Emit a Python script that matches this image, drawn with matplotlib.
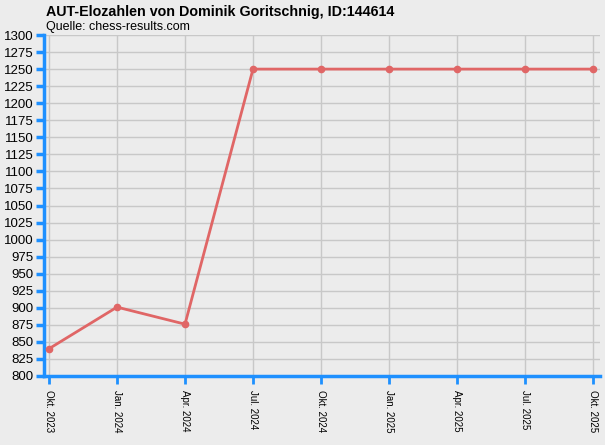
import matplotlib; matplotlib.use('Agg')
import matplotlib.pyplot as plt

plt.rcParams.update({"font.family": ["Liberation Sans", "DejaVu Sans"]})

dates = ['Okt. 2023', 'Jan. 2024', 'Apr. 2024', 'Jul. 2024', 'Okt. 2024',
         'Jan. 2025', 'Apr. 2025', 'Jul. 2025', 'Okt. 2025']
elo = [840, 901, 876, 1250, 1250, 1250, 1250, 1250, 1250]

BG = '#ececec'
BLUE = '#1e90ff'
LINE = '#e06666'

fig = plt.figure(figsize=(6.05, 4.45), dpi=100, facecolor=BG)
ax = fig.add_axes([44/605, (445-376)/445, 556/605, 341/445], facecolor=BG)

x = list(range(len(dates)))
ax.plot(x, elo, color=LINE, lw=2, marker='o', ms=4.5, zorder=3, clip_on=False)

ax.set_xlim(-5/68, 8 + 7/68)
ax.set_ylim(800, 1300)
ax.set_yticks(range(800, 1301, 25))
ax.set_xticks(x)
ax.set_xticklabels(dates, rotation=-90, fontsize=7)
ax.tick_params(axis='y', labelsize=9.5, color=BLUE, width=2.5, length=6, pad=1.5)
ax.tick_params(axis='x', color=BLUE, width=2, length=6, pad=4)
ax.grid(True, color='#c8c8c8', lw=1)
ax.set_axisbelow(True)
for s in ['top', 'right']:
    ax.spines[s].set_visible(False)
for s in ['left', 'bottom']:
    ax.spines[s].set_color(BLUE)
    ax.spines[s].set_linewidth(2.5)

fig.text(46/605, 1 - 12/445, 'AUT-Elozahlen von Dominik Goritschnig, ID:144614',
         fontsize=10.3, fontweight='bold', va='center')
fig.text(46/605, 1 - 27/445, 'Quelle: chess-results.com', fontsize=9, va='center')

fig.savefig('out.png', dpi=100, facecolor=BG)
